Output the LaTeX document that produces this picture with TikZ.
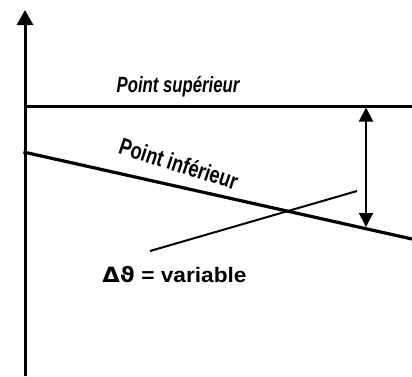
\documentclass[tikz,border=0pt]{standalone}
\usepackage{fontspec}
\setmainfont{Liberation Sans}
\newfontfamily\greekfont{DejaVu Sans}
\usetikzlibrary{arrows.meta}
\tikzset{
  axisline/.style={line width=3pt},
  curveline/.style={line width=3.2pt},
  thinline/.style={line width=2pt},
  bigtip/.style={-{Triangle[length=15pt,width=16pt]}},
  dbltip/.style={{Triangle[length=14pt,width=14pt]}-{Triangle[length=14pt,width=14pt]}},
  lbl/.style={inner sep=0pt, anchor=base}
}
\begin{document}
\begin{tikzpicture}[x=1pt,y=-1pt]
\useasboundingbox[fill=white] (0,0) rectangle (412,376);
% axis
\coordinate (o) at (25,376);
\coordinate (top) at (25,10);
\draw[axisline,bigtip] (o) -- (top);
% upper line
\coordinate (u1) at (23.5,106);
\coordinate (u2) at (412,106);
\draw[axisline] (u1) -- (u2);
% lower line
\coordinate (l1) at (23.5,152);
\coordinate (l2) at (412,239);
\draw[curveline] (l1) -- (l2);
% double arrow
\coordinate (da) at (366,107.5);
\coordinate (db) at (366,227);
\draw[thinline,dbltip] (da) -- (db);
% thin crossing line
\coordinate (c1) at (150,251);
\coordinate (c2) at (357,191);
\draw[thinline] (c1) -- (c2);
% labels
\node[lbl, xscale=0.76] (sup) at (178,92) {\fontsize{22}{22}\selectfont\bfseries\itshape Point supérieur};
\node[lbl, xscale=0.74, rotate=-13] (inf) at (177,172) {\fontsize{24}{24}\selectfont\bfseries\itshape Point inférieur};
\node[lbl, xscale=1.08] (dv) at (174.5,282) {\fontsize{21}{21}\selectfont\bfseries{\greekfont Δϑ} = variable};
\end{tikzpicture}
\end{document}
